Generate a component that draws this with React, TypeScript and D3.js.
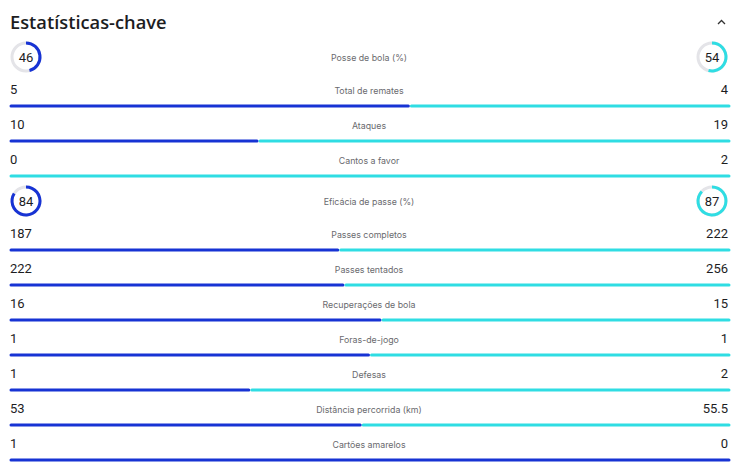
import React from "react";
import * as d3 from "d3";

const title = "Estatísticas-chave";
const labels = [
  "Posse de bola (%)",
  "Total de remates",
  "Ataques",
  "Cantos a favor",
  "Eficácia de passe (%)",
  "Passes completos",
  "Passes tentados",
  "Recuperações de bola",
  "Foras-de-jogo",
  "Defesas",
  "Distância percorrida (km)",
  "Cartões amarelos",
];
const homeValues = [46, 5, 10, 0, 84, 187, 222, 16, 1, 1, 53, 1];
const awayValues = [54, 4, 19, 2, 87, 222, 256, 15, 1, 2, 55.5, 0];
const rowKinds = ["ring", "bar", "bar", "bar", "ring", "bar", "bar", "bar", "bar", "bar", "bar", "bar"];

const W = 736;
const H = 468;
const BLUE = "#1733d4";
const CYAN = "#2fdde3";
const TRACK = "#e4e4e8";
const TEXT = "#1d1d1f";
const GREY = "#6a6a6e";

export default function App() {
  const x0 = 11;
  const x1 = 729;
  const gap = 3;
  const RING_H = 39;
  const BAR_H = 35;
  const startY = 32;
  const tops: number[] = [];
  let acc = startY;
  rowKinds.forEach((k) => {
    tops.push(acc);
    acc += k === "ring" ? RING_H : BAR_H;
  });
  const arc = d3.arc();
  const r = 14;

  return (
    <svg width={W} height={H} style={{ position: "absolute", left: 0, top: 0, background: "#fff" }}>
      <rect x={0} y={0} width={W} height={H} fill="#fff" />
      <text x={10} y={29} fontFamily="'Open Sans', sans-serif" fontWeight={600} fontSize={18.3} fill={TEXT}>
        {title}
      </text>
      <path d="M718,24 L721.5,20.5 L725,24" fill="none" stroke="#333" strokeWidth={1.3} />
      {labels.map((lab, i) => {
        const h = homeValues[i];
        const a = awayValues[i];
        const kind = rowKinds[i];
        const top = tops[i];
        if (kind === "ring") {
          const yc = top + 25;
          const ringH = arc({ innerRadius: r - 1.5, outerRadius: r + 1.5, startAngle: 0, endAngle: (h / 100) * 2 * Math.PI } as any);
          const ringA = arc({ innerRadius: r - 1.5, outerRadius: r + 1.5, startAngle: 0, endAngle: (a / 100) * 2 * Math.PI } as any);
          return (
            <g key={i}>
              <g transform={`translate(26,${yc})`}>
                <circle r={r} fill="none" stroke={TRACK} strokeWidth={3} />
                <path d={ringH || ""} fill={BLUE} />
                <text textAnchor="middle" dy="0.35em" fontFamily="Roboto, sans-serif" fontSize={13} fill={TEXT}>{h}</text>
              </g>
              <g transform={`translate(712,${yc})`}>
                <circle r={r} fill="none" stroke={TRACK} strokeWidth={3} />
                <path d={ringA || ""} fill={CYAN} />
                <text textAnchor="middle" dy="0.35em" fontFamily="Roboto, sans-serif" fontSize={13} fill={TEXT}>{a}</text>
              </g>
              <text x={369} y={yc + 1} dy="0.35em" textAnchor="middle" fontFamily="Inter, sans-serif" fontSize={8.8} fill={GREY}>{lab}</text>
            </g>
          );
        }
        const total = h + a;
        const sx = d3.scaleLinear().domain([0, total]).range([x0, x1]);
        const split = sx(h);
        const barY = top + BAR_H;
        const ty = barY - 17;
        return (
          <g key={i}>
            <text x={10} y={ty} dy="0.35em" fontFamily="Roboto, sans-serif" fontSize={13} fill={TEXT}>{h}</text>
            <text x={728} y={ty} dy="0.35em" textAnchor="end" fontFamily="Roboto, sans-serif" fontSize={13} fill={TEXT}>{a}</text>
            <text x={369} y={ty + 1.5} dy="0.35em" textAnchor="middle" fontFamily="Inter, sans-serif" fontSize={8.8} fill={GREY}>{lab}</text>
            {h > 0 && (
              <line x1={x0} x2={a > 0 ? split - gap / 2 : x1} y1={barY} y2={barY} stroke={BLUE} strokeWidth={3} strokeLinecap="round" />
            )}
            {a > 0 && (
              <line x1={h > 0 ? split + gap / 2 : x0} x2={x1} y1={barY} y2={barY} stroke={CYAN} strokeWidth={3} strokeLinecap="round" />
            )}
          </g>
        );
      })}
    </svg>
  );
}
